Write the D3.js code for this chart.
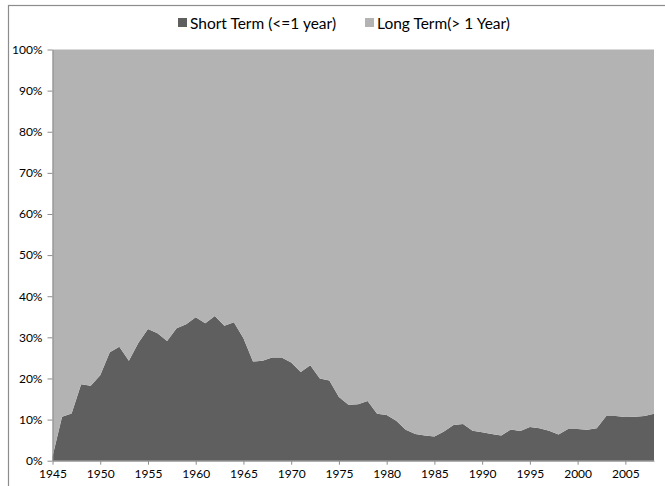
<!DOCTYPE html>
<html>
<head>
	<meta charset="utf-8">
	<script src="https://d3js.org/d3.v7.min.js"></script>
	<style type="text/css">
		body { margin: 0; background: #fff; }
		svg text { font-family: Lato, "Open Sans", sans-serif; fill: #000; }
	</style>
</head>
<body>
<script>
    // share of short term debt, percent, by year
    var years = d3.range(1945, 2009);
    var shortTerm = [
        1.0, 10.7, 11.5, 18.6, 18.2, 20.8, 26.4, 27.7, 24.3, 28.7,
        32.0, 31.0, 29.1, 32.2, 33.2, 34.9, 33.4, 35.2, 32.8, 33.7,
        29.8, 24.1, 24.3, 25.1, 25.1, 23.9, 21.6, 23.2, 20.0, 19.5,
        15.5, 13.6, 13.7, 14.5, 11.4, 11.1, 9.7, 7.5, 6.5, 6.1,
        5.9, 7.1, 8.7, 8.9, 7.3, 6.9, 6.5, 6.1, 7.6, 7.2,
        8.2, 7.9, 7.3, 6.4, 7.7, 7.7, 7.5, 7.9, 10.9, 10.9,
        10.6, 10.7, 10.9, 11.4
    ];
    var seriesNames = ["Short Term (<=1 year)", "Long Term(> 1 Year)"];
    var seriesColors = ["#5f5f5f", "#b3b3b3"];
    var xTicks = d3.range(1945, 2006, 5);
    var yTicks = d3.range(0, 101, 10);

    var width = 665, height = 486;
    var plotLeft = 52.5, plotRight = 654, plotTop = 49.5, plotBottom = 460.7;

    var rows = years.map(function(yr, i) {
        return {year: yr, s: shortTerm[i], l: 100 - shortTerm[i]};
    });

    var x = d3.scaleLinear().domain([1945, 2008]).range([plotLeft, plotRight]);
    var y = d3.scaleLinear().domain([0, 100]).range([plotBottom, plotTop]);

    var svg = d3.select("body").append("svg")
        .attr("width", width)
        .attr("height", height);

    // outer chart border
    svg.append("rect")
        .attr("x", 8.5).attr("y", 5.5)
        .attr("width", width + 10).attr("height", height + 10)
        .attr("fill", "none")
        .attr("stroke", "#8c8c8c")
        .attr("stroke-width", 1.2);

    var stack = d3.stack().keys(["s", "l"])(rows);

    var area = d3.area()
        .x(function(d) { return x(d.data.year); })
        .y0(function(d) { return y(d[0]); })
        .y1(function(d) { return y(d[1]); });

    svg.selectAll("path.layer")
        .data(stack)
        .enter().append("path")
        .attr("class", "layer")
        .attr("d", area)
        .attr("fill", function(d, i) { return seriesColors[i]; });

    // y axis
    var yAxis = svg.append("g")
        .attr("transform", "translate(" + plotLeft + ",0)")
        .call(d3.axisLeft(y).tickValues(yTicks).tickSize(5).tickSizeOuter(0).tickPadding(5)
            .tickFormat(function(d) { return d + "%"; }));
    yAxis.selectAll("text").style("font-size", "12px");

    // x axis
    var xAxis = svg.append("g")
        .attr("transform", "translate(0," + plotBottom + ")")
        .call(d3.axisBottom(x).tickValues(xTicks).tickSize(4).tickSizeOuter(0).tickPadding(5)
            .tickFormat(d3.format("d")));
    xAxis.selectAll("text").style("font-size", "12px");

    svg.selectAll(".domain").attr("stroke", "#8c8c8c");
    svg.selectAll(".tick line").attr("stroke", "#8c8c8c");

    // legend
    var legendX = [178, 365];
    var legend = svg.selectAll("g.legend")
        .data(seriesNames)
        .enter().append("g")
        .attr("class", "legend")
        .attr("transform", function(d, i) { return "translate(" + legendX[i] + ",18)"; });

    legend.append("rect")
        .attr("width", 9).attr("height", 9)
        .attr("fill", function(d, i) { return seriesColors[i]; });

    legend.append("text")
        .attr("x", 12)
        .attr("y", 10.5)
        .style("font-size", "15.5px")
        .text(function(d) { return d; });
</script>
</body>
</html>
